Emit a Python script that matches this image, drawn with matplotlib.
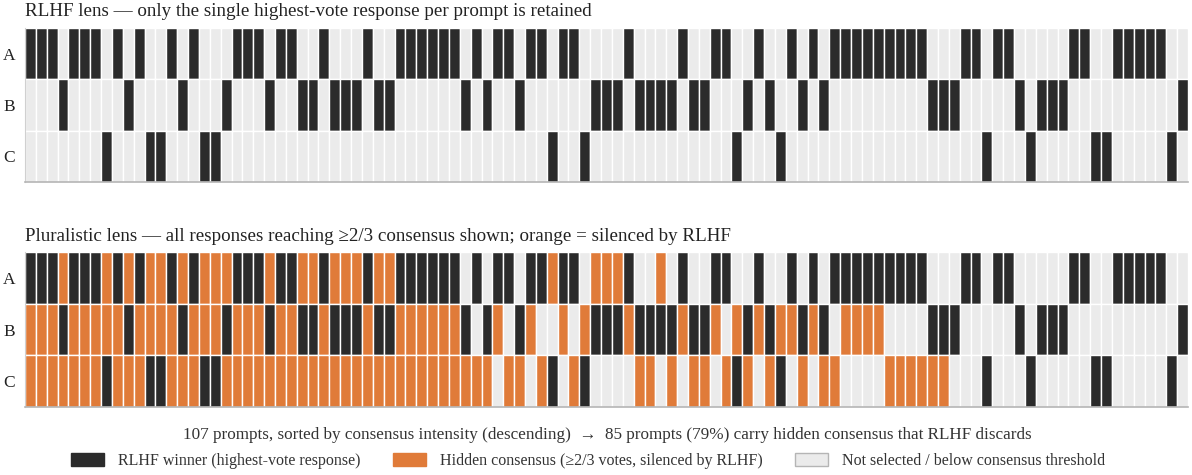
import matplotlib.pyplot as plt
from matplotlib.patches import Patch

plt.rcParams['font.family'] = ['Liberation Serif', 'DejaVu Serif']

responses = ["A", "B", "C"]

# RLHF winner for each of the 107 prompts (sorted by consensus intensity)
winners = list("AAABAAACAB" "ACCABACCBA" "AABAABBABB" "BABBAAAAAA"
               "BABAABAACA" "ACBBBABBBB" "ABBAACBABC" "ABABAAAAAA"
               "AAABBBAACA" "ABCBBBAACC" "AAAAACB")

# responses reaching >=2/3 consensus that RLHF drops
hidden = ["BC", "BC", "BC", "AC", "BC", "BC", "BC", "AB", "BC", "AC",
          "BC", "AB", "AB", "BC", "AC", "BC", "AB", "AB", "AC", "BC",
          "BC", "BC", "AC", "BC", "BC", "AC", "AC", "BC", "AC", "AC",
          "AC", "BC", "AC", "AC", "BC", "BC", "BC", "BC", "BC", "BC",
          "C", "C", "C", "B", "C", "C", "B", "C", "A", "B",
          "C", "B", "A", "A", "A", "B", "C", "C", "A", "C",
          "B", "C", "C", "B", "C", "B", "C", "B", "C", "B",
          "B", "C", "B", "C", "C", "B", "B", "B", "B", "C",
          "C", "C", "C", "C", "C", "", "", "", "", "",
          "", "", "", "", "", "", "", "", "", "",
          "", "", "", "", "", "", ""]

n_prompts = len(winners)
n_hidden = sum(1 for h in hidden if h)

DARK = "#2b2b2b"
ORANGE = "#e07b39"
LIGHT = "#ebebeb"

fig = plt.figure(figsize=(11.92, 4.75), dpi=100)
ax_top = fig.add_axes([25 / 1192, 1 - 182 / 475, 1163 / 1192, 154 / 475])
ax_bot = fig.add_axes([25 / 1192, 1 - 407 / 475, 1163 / 1192, 155 / 475])


def draw_lens(ax, show_hidden):
    x = range(n_prompts)
    for r, resp in enumerate(responses):
        colors = []
        for w, h in zip(winners, hidden):
            if w == resp:
                colors.append(DARK)
            elif show_hidden and resp in h:
                colors.append(ORANGE)
            else:
                colors.append(LIGHT)
        ax.bar(x, 1, bottom=r, width=1, color=colors,
               edgecolor="white", linewidth=1.0, align="edge")
    ax.set_xlim(0, n_prompts)
    ax.set_ylim(3, 0)
    ax.set_yticks([0.5, 1.5, 2.5])
    ax.set_yticklabels(responses, fontsize=12.5, color="#222222")
    ax.tick_params(axis="y", length=0, pad=7)
    ax.set_xticks([])
    for s in ["top", "right"]:
        ax.spines[s].set_visible(False)
    ax.spines["left"].set_color("#d0d0d0")
    ax.spines["bottom"].set_color("#b5b5b5")
    ax.spines["bottom"].set_linewidth(1.2)


draw_lens(ax_top, False)
draw_lens(ax_bot, True)

fig.text(25 / 1192, 1 - 12 / 475,
         "RLHF lens \u2014 only the single highest-vote response per prompt is retained",
         ha="left", va="center", fontsize=13.7, color="#222222")
fig.text(25 / 1192, 1 - 236 / 475,
         "Pluralistic lens \u2014 all responses reaching \u22652/3 consensus shown; "
         "orange = silenced by RLHF",
         ha="left", va="center", fontsize=13.7, color="#222222")

pct = round(100 * n_hidden / n_prompts)
fig.text(607 / 1192, 1 - 435 / 475,
         f"{n_prompts} prompts, sorted by consensus intensity (descending)  \u2192  "
         f"{n_hidden} prompts ({pct}%) carry hidden consensus that RLHF discards",
         ha="center", va="center", fontsize=12.3, color="#333333")

handles = [
    Patch(facecolor=DARK, edgecolor=DARK, label="RLHF winner (highest-vote response)"),
    Patch(facecolor=ORANGE, edgecolor=ORANGE,
          label="Hidden consensus (\u22652/3 votes, silenced by RLHF)"),
    Patch(facecolor=LIGHT, edgecolor="#b5b5b5",
          label="Not selected / below consensus threshold"),
]
fig.legend(handles=handles, loc="center", bbox_to_anchor=(588 / 1192, 1 - 461 / 475),
           ncol=3, frameon=False, fontsize=11.5, handlelength=2.05, handleheight=0.9,
           columnspacing=2.05, handletextpad=0.88, labelcolor="#333333")

fig.savefig("out.png", dpi=100)
